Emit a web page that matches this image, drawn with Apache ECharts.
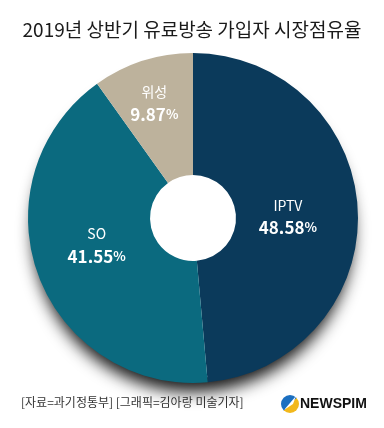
<!DOCTYPE html>
<html><head><meta charset="utf-8">
<script src="https://cdn.jsdelivr.net/npm/echarts@6/dist/echarts.min.js"></script>
<style>html,body{margin:0;padding:0;background:#fff}#c{width:384px;height:428px}</style>
</head><body><div id="c"></div>
<script>
const categories = ['IPTV', 'SO', '위성'];
const shares = [48.58, 41.55, 9.87];
const colors = ['#0b3a5b', '#0b6a7f', '#bdb29c'];
const labelOffsets = [[-12, 3], [4, -10], [-6, -13]];
const titleText = '2019년 상반기 유료방송 가입자 시장점유율';
const sourceText = '[자료=과기정통부] [그래픽=김아랑 미술기자]';
const logoText = 'NEWSPIM';

const FONT = '"Noto Sans CJK KR", "Noto Sans", sans-serif';
const chart = echarts.init(document.getElementById('c'), null, {renderer: 'canvas'});
const data = categories.map((n, i) => ({
  name: n, value: shares[i],
  itemStyle: {color: colors[i]},
  label: {offset: labelOffsets[i]}
}));
chart.setOption({
  animation: false,
  backgroundColor: '#fff',
  title: {
    text: titleText, left: 'center', top: 15,
    textStyle: {fontFamily: FONT, fontSize: 19, fontWeight: 'normal', color: '#1a1a1a'}
  },
  graphic: [
    {type: 'text', left: 21, top: 396, style: {text: sourceText, font: '12px ' + FONT, fill: '#333'}},
    {type: 'circle', shape: {cx: 290, cy: 404, r: 9}, style: {
      fill: new echarts.graphic.LinearGradient(0, 0, 1, 1, [{offset: 0, color: '#1b6fc0'}, {offset: 0.5, color: '#1b6fc0'}, {offset: 0.5, color: '#f2b81c'}, {offset: 1, color: '#f2b81c'}])}},
    {type: 'polygon', shape: {points: [[284, 410], [296, 396], [293, 404]]}, style: {fill: '#fff'}},
    {type: 'text', left: 300, top: 397, style: {text: logoText, font: 'bold 14px "Liberation Sans", Arial, sans-serif', fill: '#111'}}
  ],
  series: [
    {
      type: 'pie', silent: true, center: [193, 218], radius: [0, 160], z: 1,
      label: {show: false}, labelLine: {show: false},
      itemStyle: {color: '#fff', shadowBlur: 16, shadowOffsetY: 14, shadowColor: 'rgba(0,0,0,0.9)'},
      data: [{value: 1, name: 'shadow'}]
    },
    {
      type: 'pie', center: [193, 218], radius: [43, 165], startAngle: 90, clockwise: true, z: 2,
      label: {
        show: true, position: 'inside', color: '#fff', fontFamily: FONT,
        formatter: p => '{n|' + p.name + '}\n{v|' + p.value.toFixed(2) + '}{p|%}',
        rich: {
          n: {fontSize: 14, color: '#fff', fontFamily: FONT, lineHeight: 22, align: 'center'},
          v: {fontSize: 17, fontWeight: 'bold', color: '#fff', fontFamily: FONT, lineHeight: 22},
          p: {fontSize: 13, fontWeight: 'bold', color: '#fff', fontFamily: FONT, lineHeight: 22}
        }
      },
      labelLine: {show: false},
      emphasis: {disabled: true},
      data: data
    }
  ]
});
</script></body></html>
